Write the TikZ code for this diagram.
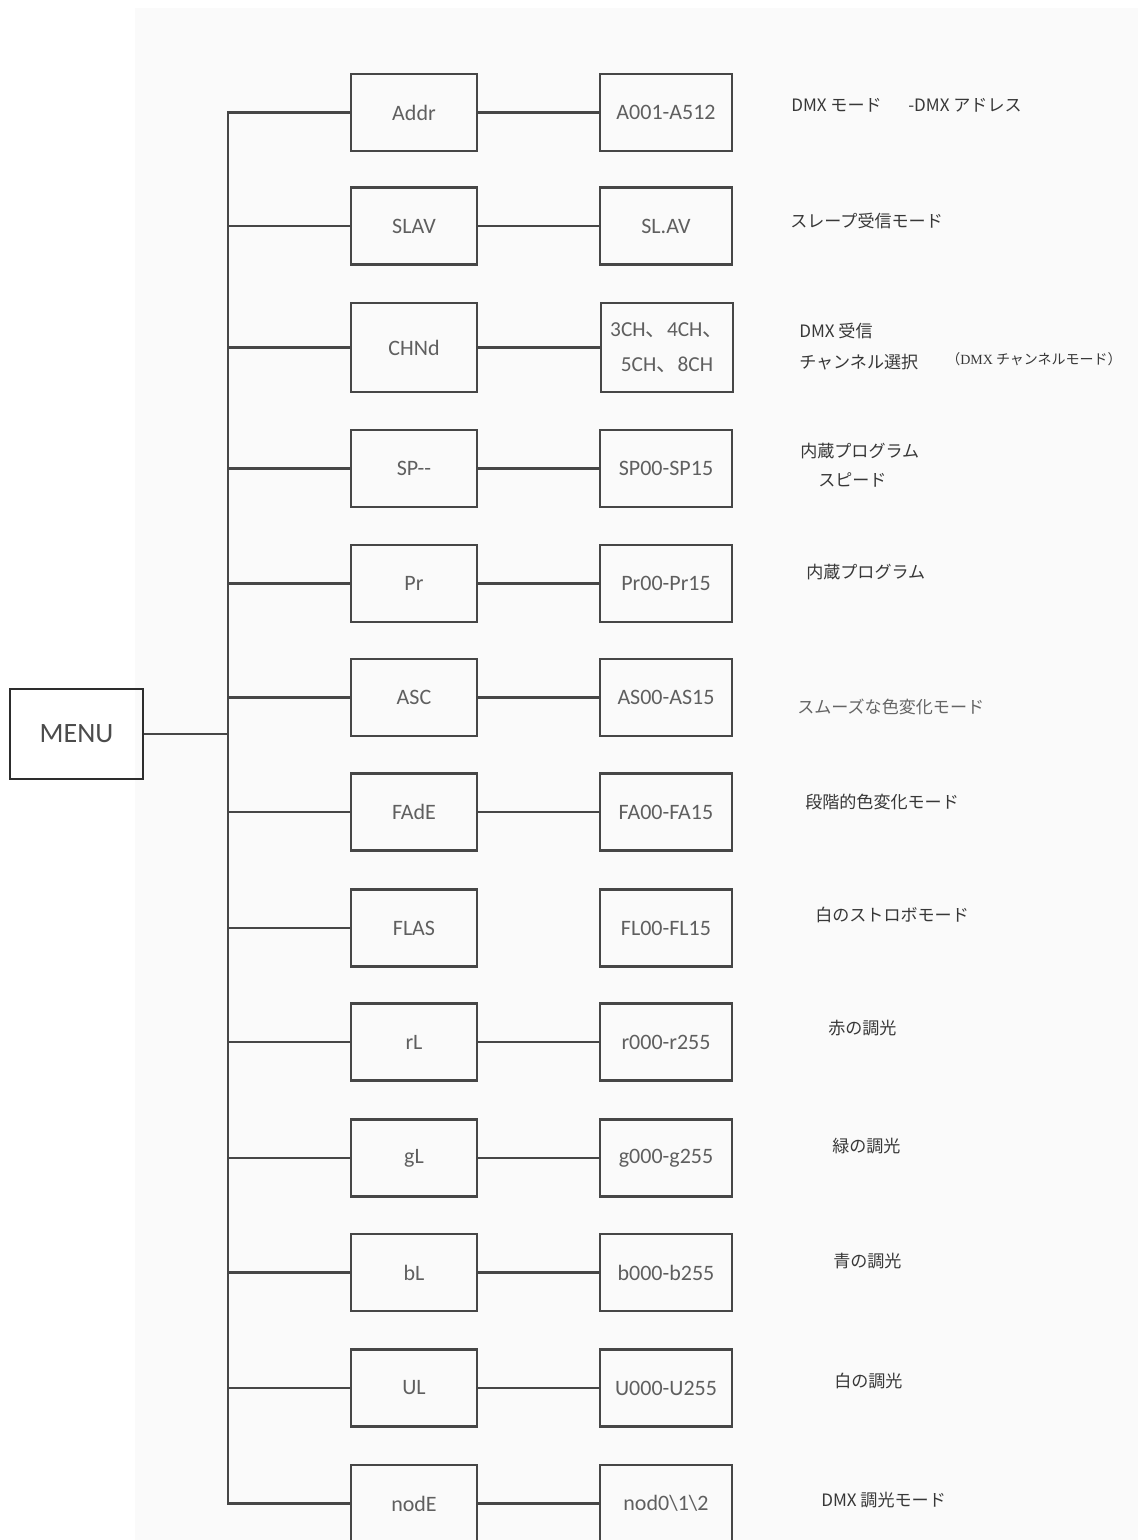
\documentclass[tikz,border=0pt]{standalone}
\usepackage{fontspec}
\setmainfont{Carlito}
\newfontfamily\cjk{Noto Sans CJK JP}
\newfontfamily\serifm{Liberation Serif}
\definecolor{lineclr}{RGB}{70,70,70}
\definecolor{menuclr}{RGB}{45,45,45}
\definecolor{boxtxt}{RGB}{95,95,95}
\definecolor{labclr}{RGB}{55,55,55}
\definecolor{lablight}{RGB}{100,100,100}
\definecolor{paper}{RGB}{250,250,250}
\begin{document}
\begin{tikzpicture}[x=0.75pt,y=-0.75pt,
  boxline/.style={draw=lineclr, line width=1.8pt},
  lbox/.style={boxline, rectangle, inner sep=0pt, minimum width=126*0.75pt,
    minimum height=77*0.75pt, font=\fontsize{16.5}{20}\selectfont, text=boxtxt},
  rbox/.style={lbox, minimum width=132*0.75pt},
  menubox/.style={draw=menuclr, line width=2.2pt, rectangle, inner sep=0pt,
    minimum width=133*0.75pt, minimum height=90*0.75pt,
    font=\fontsize{21}{24}\selectfont, text=boxtxt!80!black},
  conn/.style={draw=lineclr, line width=1.6pt},
  lab/.style={anchor=west, inner sep=0pt, font=\cjk\fontsize{12.8}{15}\selectfont, text=labclr},
  smalllab/.style={anchor=west, inner sep=0pt, font=\cjk\fontsize{10.5}{12}\selectfont, text=labclr}]
\useasboundingbox (0,0) rectangle (1138,1540);
\clip (0,0) rectangle (1138,1540);
\fill[white] (0,0) rectangle (1138,1540);
\fill[paper] (135,8) rectangle (1138,1540);

% MENU
\node[menubox] (menu) at (76.5,734) {MENU};

% left column
\node[lbox] (addr) at (414,112.5) {Addr};
\node[lbox] (slav) at (414,226) {SLAV};
\node[lbox, minimum height=89*0.75pt] (chnd) at (414,347.5) {CHNd};
\node[lbox] (sp) at (414,468.5) {SP-{}-};
\node[lbox] (pr) at (414,583.5) {Pr};
\node[lbox] (asc) at (414,697.5) {ASC};
\node[lbox] (fade) at (414,812) {FAdE};
\node[lbox] (flas) at (414,928) {FLAS};
\node[lbox] (rl) at (414,1042) {rL};
\node[lbox] (gl) at (414,1158) {gL};
\node[lbox] (bl) at (414,1272.5) {bL};
\node[lbox] (ul) at (414,1388) {UL};
\node[lbox] (node) at (414,1503.5) {nodE};

% right column
\node[rbox] (addrv) at (666,112.5) {A001-A512};
\node[rbox] (slavv) at (666,226) {SL.AV};
\node[rbox, minimum height=89*0.75pt, align=center, font=\fontsize{16}{26}\selectfont] (chndv) at (667,347.5) {3CH{\cjk 、}4CH{\cjk 、}\\5CH{\cjk 、}8CH};
\node[rbox] (spv) at (666,468.5) {SP00-SP15};
\node[rbox] (prv) at (666,583.5) {Pr00-Pr15};
\node[rbox] (ascv) at (666,697.5) {AS00-AS15};
\node[rbox] (fadev) at (666,812) {FA00-FA15};
\node[rbox] (flasv) at (666,928) {FL00-FL15};
\node[rbox] (rlv) at (666,1042) {r000-r255};
\node[rbox] (glv) at (666,1158) {g000-g255};
\node[rbox] (blv) at (666,1272.5) {b000-b255};
\node[rbox] (ulv) at (666,1388) {U000-U255};
\node[rbox] (nodev) at (666,1503.5) {nod0\textbackslash 1\textbackslash 2};

% trunk
\coordinate (jbot) at (228,1503.5);
\draw[conn] (addr.west) -| (jbot) -- (node.west);
\draw[conn] (menu.east) -- (menu.east -| jbot);
\foreach \n in {slav,chnd,sp,pr,asc,fade,flas,rl,gl,bl,ul}{
  \draw[conn] (\n.west) -- (\n.west -| jbot);
}
% left to right connectors (none for FLAS)
\foreach \n in {addr,slav,chnd,sp,pr,asc,fade,rl,gl,bl,ul,node}{
  \draw[conn] (\n.east) -- (\n v.west);
}

% labels
\node[lab] (l1a) at (791,105) {DMX モード};
\node[lab] (l1b) at (908,105) {-DMX アドレス};
\node[lab] (l2) at (790,221) {スレープ受信モード};
\node[lab] (l3a) at (799,331) {DMX 受信};
\node[lab] (l3b) at (799,362) {チャンネル選択};
\node[smalllab] (l3c) at (946,359) {（{\serifm DMX} チャンネルモード）};
\node[lab] (l4a) at (800,451) {内蔵プログラム};
\node[lab] (l4b) at (818,480) {スピード};
\node[lab] (l5) at (806,572) {内蔵プログラム};
\node[lab, text=lablight] (l6) at (797,707) {スムーズな色変化モード};
\node[lab] (l7) at (805,802) {段階的色変化モード};
\node[lab] (l8) at (815,915) {白のストロボモード};
\node[lab] (l9) at (828,1028) {赤の調光};
\node[lab] (l10) at (832,1146) {緑の調光};
\node[lab] (l11) at (833,1261) {青の調光};
\node[lab] (l12) at (834,1381) {白の調光};
\node[lab] (l13) at (821,1500) {DMX 調光モード};
\end{tikzpicture}
\end{document}
